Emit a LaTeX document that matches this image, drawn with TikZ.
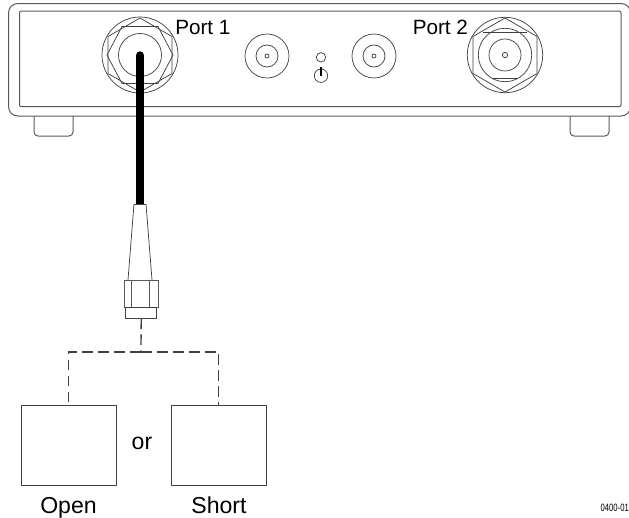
\documentclass[tikz,border=0pt]{standalone}
\usepackage{fontspec}
\setmainfont{Liberation Sans}
\usetikzlibrary{calc}
\tikzset{
  thinl/.style={draw=black!75,line width=0.55pt},
  casel/.style={draw=black!65,line width=0.75pt},
  dashl/.style={draw=black!75,line width=1pt,dash pattern=on 8pt off 4pt},
  lab/.style={inner sep=0pt,font=\fontsize{15.5pt}{18pt}\selectfont},
  labb/.style={inner sep=0pt,font=\fontsize{17.3pt}{20pt}\selectfont},
  loadbox/.style={draw=black!75,line width=0.6pt,minimum width=71pt,minimum height=60pt,inner sep=0pt,anchor=north west}
}
\begin{document}
\begin{tikzpicture}[x=0.75pt,y=-0.75pt]
\useasboundingbox (0,0) rectangle (629,518);
% feet
\draw[casel,rounded corners=3pt] (34,116) -- (34,136) -- (73,136) -- (73,116);
\draw[casel,rounded corners=3pt] (570,116) -- (570,136) -- (609,136) -- (609,116);
% case
\draw[casel,rounded corners=7pt] (8.5,3.5) rectangle (630.5,116);
\draw[casel,rounded corners=1.5pt] (19.5,11) rectangle (621,106.7);
% port 1
\coordinate (p1) at (140,55);
\draw[thinl] (p1) circle[radius=38];
\draw[thinl] (p1) circle[radius=21.5];
\draw[thinl] ($(p1)+(0,-37)$) -- ($(p1)+(32,-18.5)$) -- ($(p1)+(32,18.5)$) -- ($(p1)+(0,37)$) -- ($(p1)+(-32,18.5)$) -- ($(p1)+(-32,-18.5)$) -- cycle;
\draw[thinl] ($(p1)+(33,0)$) -- ($(p1)+(18,-28.5)$) -- ($(p1)+(-18,-28.5)$) -- ($(p1)+(-33,0)$) -- ($(p1)+(-18,28.5)$) -- ($(p1)+(18,28.5)$) -- cycle;
% port 2
\coordinate (p2) at (505,55);
\draw[thinl] (p2) circle[radius=37.7];
\draw[thinl] (p2) circle[radius=26.7];
\draw[thinl] (p2) circle[radius=16];
\draw[thinl] (p2) circle[radius=2.7];
\draw[thinl] ($(p2)+(0,-37)$) -- ($(p2)+(32,-18.5)$) -- ($(p2)+(32,18.5)$) -- ($(p2)+(0,37)$) -- ($(p2)+(-32,18.5)$) -- ($(p2)+(-32,-18.5)$) -- cycle;
\draw[thinl] ($(p2)+(-22,-23)$) -- ($(p2)+(22,-23)$);
\draw[thinl] ($(p2)+(-13,23)$) -- ($(p2)+(13,23)$);
% small connectors
\foreach \c in {267,374}{
  \draw[thinl] (\c,56) circle[radius=22];
  \draw[thinl] (\c,56) circle[radius=11];
  \draw[thinl] (\c,56) circle[radius=2];
}
% LED and power
\draw[thinl] (321,57.3) circle[radius=4.7];
\draw[thinl] (321,75.7) circle[radius=6.7];
\draw[black,line width=1.9pt] (321,67) -- (321,75.5);
% connector
\coordinate (cabletop) at (140,55.5);
\coordinate (cablebot) at (140,204);
\draw[black,line width=6.3pt,line cap=round] (cabletop) -- (140,195);
\draw[black,line width=6.3pt] (140,195) -- (cablebot);
\draw[thinl] (134,204) -- (146,204);
\draw[thinl] (134,204) -- (128,280);
\draw[thinl] (146,204) -- (152,280);
\draw[casel] (124,280) rectangle (158,307);
\draw[casel] (131.7,280) -- (131.7,307);
\draw[casel] (149,280) -- (149,307);
\node[draw=black!75,line width=0.6pt,minimum width=23.2pt,minimum height=8.2pt,inner sep=0pt] (tip) at (141.2,312.5) {};
% junction and loads
\coordinate (junction) at (141,352);
\node[loadbox] (open) at (21,405) {};
\node[loadbox] (short) at (171,405) {};
\draw[dashl] (tip.south) -- (junction);
\draw[dashl] (junction) -- (open.north |- junction) -- (open.north);
\draw[dashl] (junction) -- (short.north |- junction) -- (short.north);
% labels
\node[lab,anchor=base west] (port1) at (175,34) {Port 1};
\node[lab,anchor=base west] (port2) at (412.5,34) {Port 2};
\node[labb,anchor=base] (orlab) at (142,449) {or};
\node[labb,anchor=base] (openlab) at (68.5,513) {Open};
\node[labb,anchor=base] (shortlab) at (219,513) {Short};
\node[inner sep=0pt,anchor=base east,font=\fontsize{8pt}{9pt}\selectfont,xscale=0.72] (code) at (629,511) {0400-01};
\end{tikzpicture}
\end{document}
